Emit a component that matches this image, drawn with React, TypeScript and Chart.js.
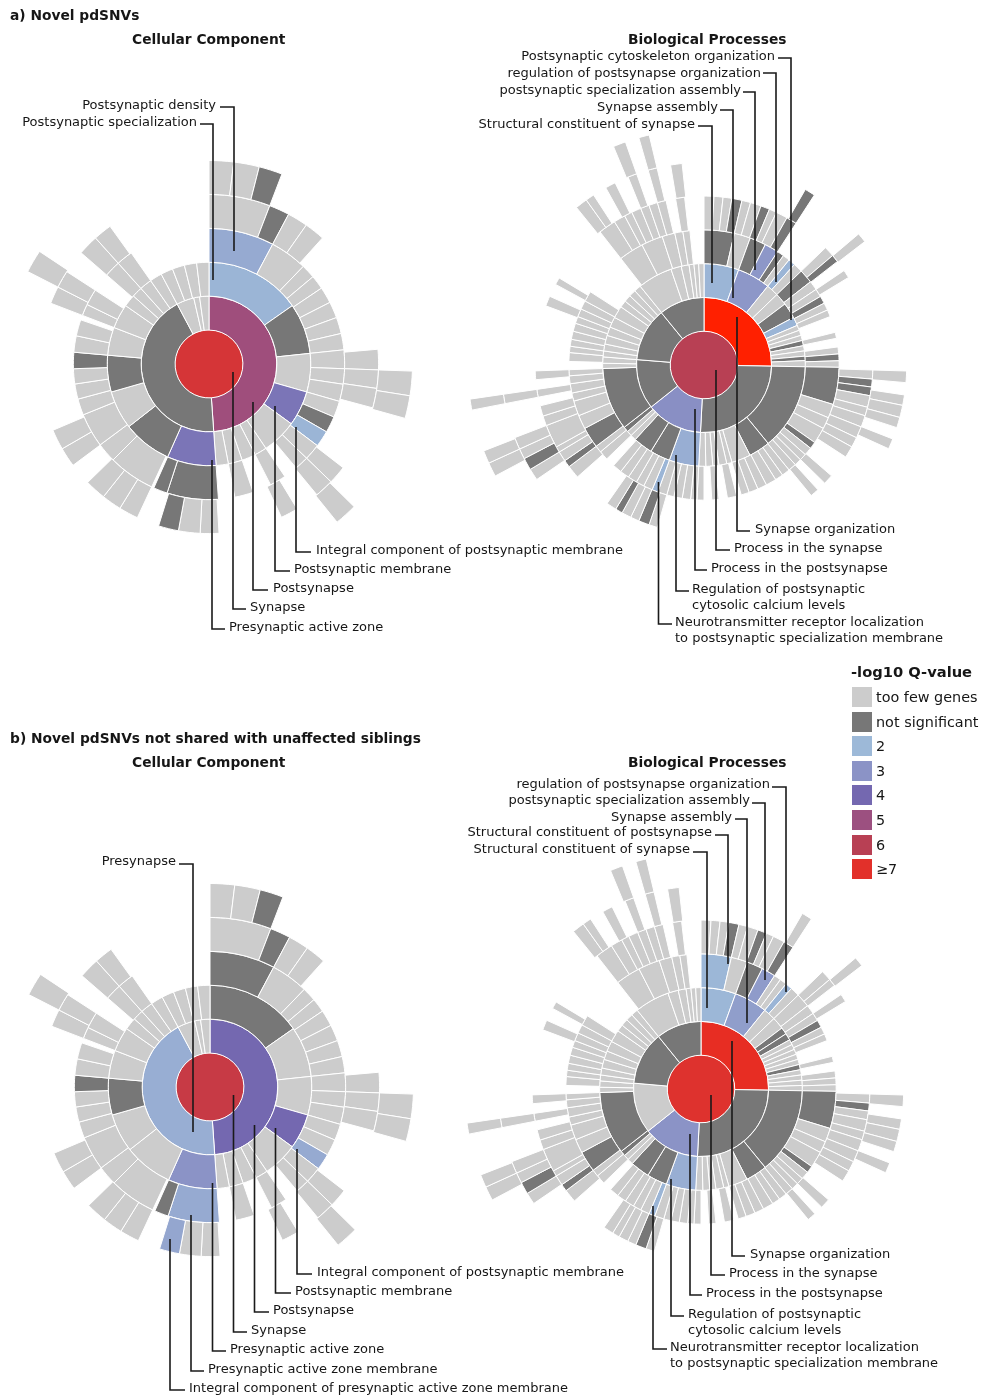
import React, { useEffect, useRef } from "react";
import { Chart, registerables } from "chart.js";

Chart.register(...registerables);

// Levels: G = empty sector, F = too few genes, N = not significant, numbers = -log10 Q-value
const G = -1;
const F = 0;
const N = 1;
type Seg = [number, number]; // [end angle of the gene set in degrees, level]

// ---------- a) Cellular Component ----------
const a_cc_r1: Seg[] = [[360, 6.7]];
const a_cc_r2: Seg[] = [[176, 5.1], [332, N], [347, F], [352, F], [360, F]];
const a_cc_r3: Seg[] = [[55, 2.1], [84, N], [106, F], [126, 3.7], [146, F], [153, F], [161, F], [169, F], [176, F], [204, 3.7], [232, N], [254, F], [275, N], [291, F], [305, F], [312, F], [318, F], [325, F], [332, F], [339, F], [346, F], [353, F], [360, F]];
const a_cc_r4: Seg[] = [[28, 2.4], [44, F], [50, F], [56, F], [63, F], [70, F], [77, F], [84, F], [92, F], [98.6, F], [106, F], [113, F], [120, N], [127, 2.1], [134, F], [140, F], [146, G], [153, F], [161, G], [169, F], [176, G], [198, N], [204, N], [205, G], [225, F], [233.4, F], [248, F], [255, F], [261.5, F], [268, F], [275, N], [282, F], [289, F], [291, G], [296, F], [303, F], [311, G], [318, F], [325, F]];
const a_cc_r5: Seg[] = [[21, F], [28, N], [35, F], [42, F], [85, G], [92, F], [98.3, F], [105, F], [127.7, G], [134, F], [140.5, F], [148.7, G], [154.7, F], [176.6, G], [183, F], [190.4, F], [197.3, N], [205, G], [211.7, F], [218.5, F], [225.7, F], [233.3, G], [240, F], [247, F], [291, G], [297, F], [303, F], [311, G], [318, F], [324.3, F]];
const a_cc_r6: Seg[] = [[7, F], [14.3, F], [21, N], [92, G], [99, F], [105.5, F], [134.5, G], [141, F], [297, G], [303.6, F]];

// ---------- a) Biological Processes ----------
const a_bp_r1: Seg[] = [[360, 6]];
const a_bp_r2: Seg[] = [[91, 7.6], [183, N], [231.5, 3.1], [274.6, N], [320.8, N], [360, N]];
const a_bp_r3: Seg[] = [[20, 2.1], [39, 2.9], [46, F], [53, F], [62, N], [67, 2.1], [70, F], [73, F], [76, F], [79, N], [82, F], [85, F], [87.5, N], [91, F], [140.7, N], [153, N], [164, F], [167, F], [171.5, F], [175, F], [179, F], [183, F], [200, 2.3], [211.6, N], [222.7, N], [226, F], [229, F], [232, N], [268, N], [271, F], [274.6, F], [278, F], [282, F], [287, F], [292, F], [298, F], [305, F], [309, F], [313, F], [317, F], [321, F], [341, F], [347, F], [351.5, F], [354.3, F], [357, F], [360, F]];
const a_bp_r4: Seg[] = [[13, N], [20, F], [27, N], [33, 2.9], [36, N], [39, F], [42, 2.1], [46, F], [52, N], [56, F], [59.5, F], [62.8, N], [66, F], [69, F], [76, G], [78.6, F], [82.3, G], [85.3, F], [88.2, N], [91, F], [107, N], [113, F], [118, F], [125, F], [128, N], [131.5, F], [134.5, F], [137.5, F], [141, F], [144.5, F], [148, F], [152.5, F], [156.5, F], [160.5, F], [164, F], [166, G], [170, F], [173.6, G], [176.7, F], [180, G], [183, F], [185.7, F], [189.3, F], [192.9, F], [196, F], [200, F], [202.6, 2.1], [206.5, F], [210, F], [214, F], [218, F], [222, F], [226, G], [230, F], [233, F], [242, N], [248, F], [254.5, F], [258, F], [262, F], [265.4, F], [268, F], [271.5, G], [275.3, F], [278, F], [281, F], [284.5, F], [288, F], [291, F], [294.5, F], [298.3, F], [302.8, F], [322, G], [332.7, F], [342, F], [347.5, F], [351, F], [354, F]];
const a_bp_r5: Seg[] = [[3.4, F], [6.5, F], [9.5, F], [13, N], [16, F], [19.7, F], [22.8, N], [25.4, F], [29.4, F], [33, N], [46, G], [49.6, F], [52.2, N], [56, G], [58.8, F], [91.7, G], [94.8, F], [97.5, N], [100.5, N], [104.5, F], [107.5, F], [111.5, F], [115.5, F], [119, F], [123, F], [131, G], [134.4, F], [137.6, G], [140.6, F], [196, G], [199, F], [202.7, N], [205.7, F], [209, F], [211.5, N], [215, F], [228.5, G], [233, F], [235.5, N], [239, F], [241, F], [249, F], [252.4, F], [256, F], [259, G], [261.7, F], [265, G], [268, F], [290.5, G], [294, F], [298.5, G], [301, F], [322, G], [328, F], [332, F], [334.7, F], [338, F], [341, F], [344, F], [347, F], [350.3, G], [353.4, F]];
const a_bp_r6: Seg[] = [[30, G], [33, N], [49.7, G], [52.5, F], [91.7, G], [95, F], [98.5, G], [101.5, F], [105, F], [108, F], [111.4, G], [114.4, F], [235.6, G], [239, F], [242.5, N], [245.5, F], [249, F], [259, G], [261.7, F], [321, G], [324.5, F], [327, F], [331, G], [334, F], [338, G], [340.6, F], [344, G], [346.6, F], [350.5, G], [353.8, F]];
const a_bp_r7: Seg[] = [[242, G], [245.5, F], [248.7, F], [259, G], [261.7, F], [337.5, G], [340.6, F], [344, G], [346.6, F]];

// ---------- b) Cellular Component ----------
const b_cc_r1: Seg[] = [[360, 6.35]];
const b_cc_r2: Seg[] = [[176, 4], [332, 2.3], [347, F], [352, F], [360, F]];
const b_cc_r3: Seg[] = [[55, N], [84, F], [106, F], [126, 4], [146, F], [153, F], [161, F], [169, F], [176, F], [204, 3], [232, F], [254, F], [275, N], [291, F], [305, F], [312, F], [318, F], [325, F], [332, F], [339, F], [346, F], [353, F], [360, F]];
const b_cc_r4: Seg[] = [[28, N], [44, F], [50, F], [56, F], [63, F], [70, F], [77, F], [84, F], [92, F], [98.6, F], [106, F], [113, F], [120, F], [127, 2.4], [134, F], [140, F], [146, G], [153, F], [161, G], [169, F], [176, G], [198, 2.4], [204, N], [205, G], [225, F], [233.4, F], [248, F], [255, F], [261.5, F], [268, F], [275, N], [282, F], [289, F], [291, G], [296, F], [303, F], [311, G], [318, F], [325, F]];
const b_cc_r5: Seg[] = [[21, F], [28, N], [35, F], [42, F], [85, G], [92, F], [98.3, F], [105, F], [127.7, G], [134, F], [140.5, F], [148.7, G], [154.7, F], [176.6, G], [183, F], [190.4, F], [197.3, 2.5], [205, G], [211.7, F], [218.5, F], [225.7, F], [233.3, G], [240, F], [247, F], [291, G], [297, F], [303, F], [311, G], [318, F], [324.3, F]];
const b_cc_r6: Seg[] = [[7, F], [14.3, F], [21, N], [92, G], [99, F], [105.5, F], [134.5, G], [141, F], [297, G], [303.6, F]];

// ---------- b) Biological Processes ----------
const b_bp_r1: Seg[] = [[360, 6.9]];
const b_bp_r2: Seg[] = [[91, 7.1], [183, N], [231.5, 3], [275, F], [321, N], [360, N]];
const b_bp_r3: Seg[] = [[20, 2.05], [39, 2.7], [46, F], [53, F], [57, N], [61, N], [64, F], [67, F], [70, F], [73, F], [76, F], [79, N], [82, F], [85, F], [88, F], [91, F], [140.7, N], [153, N], [164, F], [167, F], [171.5, F], [175, F], [179, F], [183, F], [200, 2.3], [211.6, N], [222.7, N], [226, F], [229, F], [232, N], [268, N], [271, F], [274.6, F], [278, F], [282, F], [287, F], [292, F], [298, F], [305, F], [309, F], [313, F], [317, F], [321, F], [341, F], [347, F], [351.5, F], [354.3, F], [357, F], [360, F]];
const b_bp_r4: Seg[] = [[13, 2.05], [20, F], [27, N], [33, 2.8], [36, F], [39, F], [42, 2.1], [46, F], [52, F], [56, F], [59.5, F], [62.8, N], [66, F], [69, F], [76, G], [78.6, F], [82.3, G], [85.3, F], [88.2, F], [91, F], [107, N], [113, F], [118, F], [125, F], [128, N], [131.5, F], [134.5, F], [137.5, F], [141, F], [144.5, F], [148, F], [152.5, F], [156.5, F], [160.5, F], [164, F], [166, G], [170, F], [173.6, G], [176.7, F], [180, G], [183, F], [185.7, F], [189.3, F], [192.9, F], [196, F], [200, F], [202.6, 2.1], [206.5, F], [210, F], [214, F], [218, F], [222, F], [226, G], [230, F], [233, F], [242, N], [248, F], [254.5, F], [258, F], [262, F], [265.4, F], [268, F], [271.5, G], [275.3, F], [278, F], [281, F], [284.5, F], [288, F], [291, F], [294.5, F], [298.3, F], [302.8, F], [322, G], [332.7, F], [342, F], [347.5, F], [351, F], [354, F]];
const b_bp_r5: Seg[] = [[3.4, F], [6.5, F], [9.5, F], [13, N], [16, F], [19.7, F], [22.8, N], [25.4, F], [29.4, F], [33, N], [46, G], [49.6, F], [52.2, F], [56, G], [58.8, F], [91.7, G], [94.8, F], [97.5, N], [100.5, F], [104.5, F], [107.5, F], [111.5, F], [115.5, F], [119, F], [123, F], [131, G], [134.4, F], [137.6, G], [140.6, F], [196, G], [199, F], [202.7, N], [205.7, F], [209, F], [211.5, F], [215, F], [228.5, G], [233, F], [235.5, N], [239, F], [241, F], [249, F], [252.4, F], [256, F], [259, G], [261.7, F], [265, G], [268, F], [290.5, G], [294, F], [298.5, G], [301, F], [322, G], [328, F], [332, F], [334.7, F], [338, F], [341, F], [344, F], [347, F], [350.3, G], [353.4, F]];
const b_bp_r6: Seg[] = [[30, G], [33, F], [49.7, G], [52.5, F], [91.7, G], [95, F], [98.5, G], [101.5, F], [105, F], [108, F], [111.4, G], [114.4, F], [235.6, G], [239, F], [242.5, N], [245.5, F], [249, F], [259, G], [261.7, F], [321, G], [324.5, F], [327, F], [331, G], [334, F], [338, G], [340.6, F], [344, G], [346.6, F], [350.5, G], [353.8, F]];
const b_bp_r7: Seg[] = [[242, G], [245.5, F], [248.7, F], [259, G], [261.7, F], [337.5, G], [340.6, F], [344, G], [346.6, F]];

// ---------- legend ----------
const legendLabels = ["too few genes", "not significant", "2", "3", "4", "5", "6", "≥7"];
const legendLevels = [F, N, 2, 3, 4, 5, 6, 7];

// ---------- colour scale ----------
const TOO_FEW = "#cccccc";
const NOT_SIG = "#777777";
const scaleStops: [number, number[]][] = [
  [2, [157, 185, 216]],
  [3, [139, 147, 198]],
  [4, [116, 104, 176]],
  [5, [156, 80, 128]],
  [6, [184, 64, 84]],
  [7, [226, 48, 42]],
  [7.6, [255, 32, 0]],
];
function levelColor(v: number): string {
  if (v === G) return "rgba(0,0,0,0)";
  if (v === F) return TOO_FEW;
  if (v === N) return NOT_SIG;
  for (let i = 1; i < scaleStops.length; i++) {
    const [v1, c1] = scaleStops[i];
    const [v0, c0] = scaleStops[i - 1];
    if (v <= v1) {
      const t = (v - v0) / (v1 - v0);
      return `rgb(${c0.map((c, k) => Math.round(c + (c1[k] - c) * t)).join(",")})`;
    }
  }
  return "rgb(255,32,0)";
}

// ---------- layout ----------
const W = 981;
const H = 1396;
const FONT = '"DejaVu Sans", Verdana, sans-serif';
const INK = "#161616";

type Burst = { cx: number; cy: number; radius: number; rings: Seg[][] };
const bursts: Burst[] = [
  { cx: 209, cy: 364, radius: 203.5, rings: [a_cc_r1, a_cc_r2, a_cc_r3, a_cc_r4, a_cc_r5, a_cc_r6] },
  { cx: 703.7, cy: 364.5, radius: 236.5, rings: [a_bp_r1, a_bp_r2, a_bp_r3, a_bp_r4, a_bp_r5, a_bp_r6, a_bp_r7] },
  { cx: 210, cy: 1086.7, radius: 203.5, rings: [b_cc_r1, b_cc_r2, b_cc_r3, b_cc_r4, b_cc_r5, b_cc_r6] },
  { cx: 701, cy: 1089.3, radius: 236.5, rings: [b_bp_r1, b_bp_r2, b_bp_r3, b_bp_r4, b_bp_r5, b_bp_r6, b_bp_r7] },
];

// Leader lines in page pixels: [x, y] corners, from label to sector
const leaders: number[][][] = [
  [[220, 107], [234, 107], [234, 251]],
  [[200, 124], [213, 124], [213, 280]],
  [[311, 552], [296, 552], [296, 427]],
  [[290, 571], [275, 571], [275, 406]],
  [[268, 590], [253, 590], [253, 402]],
  [[246, 609], [233, 609], [233, 372]],
  [[225, 629], [212, 629], [212, 460]],
  [[778, 58], [791, 58], [791, 320]],
  [[763, 73], [776, 73], [776, 282]],
  [[743, 92], [755, 92], [755, 270]],
  [[720, 110], [733, 110], [733, 298]],
  [[698, 126], [712, 126], [712, 283]],
  [[750, 531], [737, 531], [737, 317]],
  [[730, 550], [716, 550], [716, 370]],
  [[707, 570], [695, 570], [695, 409]],
  [[689, 591], [676, 591], [676, 455]],
  [[672, 624], [658.5, 624], [658.5, 482]],
  [[179, 864], [193, 864], [193, 1132]],
  [[312, 1274], [297, 1274], [297, 1149]],
  [[291, 1293], [275.5, 1293], [275.5, 1128]],
  [[269, 1312], [254.5, 1312], [254.5, 1125]],
  [[247, 1332], [233.5, 1332], [233.5, 1095]],
  [[226, 1351], [212.5, 1351], [212.5, 1183]],
  [[204, 1371], [191, 1371], [191, 1215]],
  [[185, 1390], [170, 1390], [170, 1239]],
  [[772, 787], [786, 787], [786, 992]],
  [[752, 803], [765, 803], [765, 980]],
  [[735, 819], [747, 819], [747, 1023]],
  [[715, 835], [728, 835], [728, 964]],
  [[693, 852], [707, 852], [707, 1008]],
  [[745, 1256], [732, 1256], [732, 1041]],
  [[725, 1275], [711, 1275], [711, 1095]],
  [[702, 1295], [690, 1295], [690, 1134]],
  [[684, 1316], [671, 1316], [671, 1179]],
  [[667, 1349], [653, 1349], [653, 1206]],
];

// Text: [text, x, centre y, anchor, font size, bold]
type Lbl = [string, number, number, "l" | "r", number, boolean?];
const BODY = 13;
const HEAD = 13.8;
const texts: Lbl[] = [
  ["a) Novel pdSNVs", 10, 15, "l", HEAD, true],
  ["Cellular Component", 132, 39, "l", HEAD, true],
  ["Biological Processes", 628, 39, "l", HEAD, true],
  ["Postsynaptic density", 216, 105, "r", BODY],
  ["Postsynaptic specialization", 197, 122, "r", BODY],
  ["Integral component of postsynaptic membrane", 316, 550, "l", BODY],
  ["Postsynaptic membrane", 294, 569, "l", BODY],
  ["Postsynapse", 273, 588, "l", BODY],
  ["Synapse", 250, 607, "l", BODY],
  ["Presynaptic active zone", 229, 627, "l", BODY],
  ["Postsynaptic cytoskeleton organization", 775, 56, "r", BODY],
  ["regulation of postsynapse organization", 761, 73, "r", BODY],
  ["postsynaptic specialization assembly", 741, 90, "r", BODY],
  ["Synapse assembly", 718, 107, "r", BODY],
  ["Structural constituent of synapse", 695, 124, "r", BODY],
  ["Synapse organization", 755, 529, "l", BODY],
  ["Process in the synapse", 734, 548, "l", BODY],
  ["Process in the postsynapse", 711, 568, "l", BODY],
  ["Regulation of postsynaptic", 692, 589, "l", BODY],
  ["cytosolic calcium levels", 692, 605, "l", BODY],
  ["Neurotransmitter receptor localization", 675, 622, "l", BODY],
  ["to postsynaptic specialization membrane", 675, 638, "l", BODY],
  ["-log10 Q-value", 851, 672, "l", 14.7, true],
  ["b) Novel pdSNVs not shared with unaffected siblings", 10, 738, "l", HEAD, true],
  ["Cellular Component", 132, 762, "l", HEAD, true],
  ["Biological Processes", 628, 762, "l", HEAD, true],
  ["Presynapse", 176, 861, "r", BODY],
  ["Integral component of postsynaptic membrane", 317, 1272, "l", BODY],
  ["Postsynaptic membrane", 295, 1291, "l", BODY],
  ["Postsynapse", 273, 1310, "l", BODY],
  ["Synapse", 251, 1330, "l", BODY],
  ["Presynaptic active zone", 230, 1349, "l", BODY],
  ["Presynaptic active zone membrane", 208, 1369, "l", BODY],
  ["Integral component of presynaptic active zone membrane", 189, 1388, "l", BODY],
  ["regulation of postsynapse organization", 770, 784, "r", BODY],
  ["postsynaptic specialization assembly", 750, 800, "r", BODY],
  ["Synapse assembly", 732, 817, "r", BODY],
  ["Structural constituent of postsynapse", 712, 832, "r", BODY],
  ["Structural constituent of synapse", 690, 849, "r", BODY],
  ["Synapse organization", 750, 1254, "l", BODY],
  ["Process in the synapse", 729, 1273, "l", BODY],
  ["Process in the postsynapse", 706, 1293, "l", BODY],
  ["Regulation of postsynaptic", 688, 1314, "l", BODY],
  ["cytosolic calcium levels", 688, 1330, "l", BODY],
  ["Neurotransmitter receptor localization", 670, 1347, "l", BODY],
  ["to postsynaptic specialization membrane", 670, 1363, "l", BODY],
];

function spansOf(ring: Seg[]) {
  const spans: number[] = [];
  const colors: string[] = [];
  const edges: string[] = [];
  let prev = 0;
  for (const [end, level] of ring) {
    spans.push(end - prev);
    colors.push(levelColor(level));
    edges.push(level === G ? "rgba(0,0,0,0)" : "#ffffff");
    prev = end;
  }
  if (prev < 360) {
    spans.push(360 - prev);
    colors.push("rgba(0,0,0,0)");
    edges.push("rgba(0,0,0,0)");
  }
  return { spans, colors, edges };
}

function Sunburst({ burst }: { burst: Burst }) {
  const ref = useRef<HTMLCanvasElement>(null);
  const size = Math.round(burst.radius * 2 + 1);
  useEffect(() => {
    // Chart.js draws dataset 0 as the outermost ring; the centre disc needs no seam
    const n = burst.rings.length;
    const datasets = [...burst.rings].reverse().map((ring, i) => {
      const { spans, colors, edges } = spansOf(ring);
      return { data: spans, backgroundColor: colors, borderColor: edges, borderWidth: i === n - 1 ? 0 : 1 };
    });
    const chart = new Chart(ref.current!, {
      type: "doughnut",
      data: { datasets },
      options: {
        responsive: false,
        animation: false,
        cutout: 0,
        layout: { padding: 0 },
        events: [],
        plugins: { legend: { display: false }, tooltip: { enabled: false } },
      },
    } as any);
    return () => chart.destroy();
  }, [burst]);
  return (
    <canvas
      ref={ref}
      width={size}
      height={size}
      style={{ position: "absolute", left: burst.cx - size / 2, top: burst.cy - size / 2, width: size, height: size }}
    />
  );
}

function Leaders() {
  const ref = useRef<HTMLCanvasElement>(null);
  useEffect(() => {
    const chart = new Chart(ref.current!, {
      type: "scatter",
      data: {
        datasets: leaders.map((path) => ({
          data: path.map(([x, y]) => ({ x, y })),
          showLine: true,
          borderColor: "#1a1a1a",
          borderWidth: 1.6,
          pointRadius: 0,
          tension: 0,
          borderJoinStyle: "miter",
        })),
      },
      options: {
        responsive: false,
        animation: false,
        layout: { padding: 0 },
        events: [],
        scales: {
          x: { type: "linear", min: 0, max: W, display: false },
          y: { type: "linear", min: 0, max: H, reverse: true, display: false },
        },
        plugins: { legend: { display: false }, tooltip: { enabled: false } },
      },
    } as any);
    return () => chart.destroy();
  }, []);
  return (
    <canvas ref={ref} width={W} height={H} style={{ position: "absolute", left: 0, top: 0, width: W, height: H }} />
  );
}

export default function App() {
  return (
    <div
      style={{
        position: "absolute",
        left: 0,
        top: 0,
        width: W,
        height: H,
        background: "#fff",
        overflow: "hidden",
        fontFamily: FONT,
        color: INK,
        filter: "blur(0.35px)",
      }}
    >
      {bursts.map((b, i) => (
        <Sunburst key={i} burst={b} />
      ))}
      <Leaders />
      {texts.map(([t, x, y, anchor, size, bold], i) => (
        <div
          key={i}
          style={{
            position: "absolute",
            top: y - 9,
            height: 18,
            lineHeight: "18px",
            whiteSpace: "nowrap",
            fontSize: size,
            fontWeight: bold ? 700 : 400,
            ...(anchor === "l" ? { left: x } : { right: W - x }),
          }}
        >
          {t}
        </div>
      ))}
      {legendLabels.map((label, i) => (
        <React.Fragment key={label}>
          <div
            style={{
              position: "absolute",
              left: 851.5,
              top: 687 + i * 24.6,
              width: 20,
              height: 20,
              background: levelColor(legendLevels[i]),
            }}
          />
          <div
            style={{
              position: "absolute",
              left: 876,
              top: 688 + i * 24.6,
              height: 18,
              lineHeight: "18px",
              fontSize: 14.4,
              whiteSpace: "nowrap",
            }}
          >
            {label}
          </div>
        </React.Fragment>
      ))}
    </div>
  );
}
